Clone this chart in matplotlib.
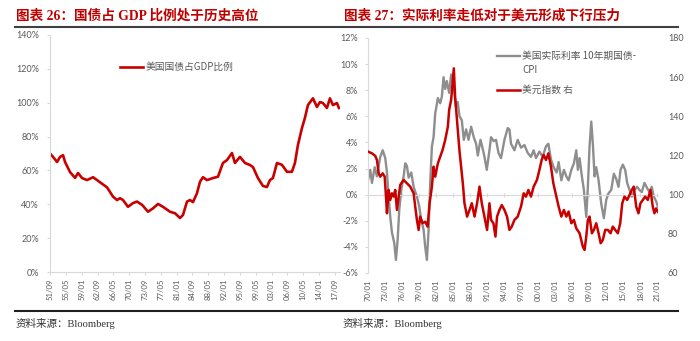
import numpy as np
import matplotlib
matplotlib.use("Agg")
import matplotlib.pyplot as plt
from matplotlib.lines import Line2D

plt.rcParams["font.family"] = ["Lato", "Noto Sans CJK SC", "DejaVu Sans"]

RED = "#C80000"
GREY = "#8E8E8E"
TICK_TXT = "#595959"
AXIS_LN = "#D9D9D9"

# 美国国债占GDP比例 (%), 51/09 起
debt_year = [1951.67, 1952.36, 1953.29, 1953.99, 1954.68, 1955.14, 1956.30, 1957.46,
             1958.15, 1959.08, 1960.24, 1961.63, 1963.25, 1964.87, 1966.26, 1967.19,
             1967.88, 1968.58, 1969.73, 1970.89, 1971.82, 1972.98, 1974.37, 1975.52,
             1976.68, 1977.84, 1979.46, 1980.62, 1981.78, 1982.47, 1983.40, 1984.09,
             1984.79, 1985.71, 1986.41, 1987.10, 1988.03, 1989.42, 1990.58, 1991.73,
             1992.66, 1993.82, 1994.51, 1995.67, 1996.83, 1997.99, 1998.68, 1999.84,
             2001.00, 2001.92, 2002.62, 2003.31, 2004.24, 2005.40, 2006.56, 2007.71,
             2008.41, 2009.10, 2010.03, 2010.72, 2011.42, 2012.58, 2013.51, 2014.20,
             2014.90, 2015.82, 2016.52, 2017.21, 2018.14, 2018.60]
debt_pct = [70.0, 68.0, 65.0, 68.0, 69.0, 65.0, 59.0, 55.6,
            58.5, 55.5, 54.3, 56.0, 53.0, 50.0, 44.5, 42.5,
            43.6, 42.5, 38.5, 40.7, 41.6, 39.7, 35.6, 37.6,
            40.2, 38.5, 35.6, 34.7, 31.9, 33.7, 41.6, 42.5,
            41.3, 46.5, 53.3, 56.0, 54.3, 55.5, 56.3, 64.4,
            66.1, 70.3, 64.4, 68.0, 64.4, 63.2, 62.0, 55.5,
            50.8, 50.2, 54.3, 55.5, 64.4, 63.3, 59.2, 59.2,
            64.4, 75.0, 85.0, 91.0, 98.6, 102.6, 97.5, 100.4,
            99.8, 96.9, 102.6, 98.6, 99.8, 96.9]

# 美国实际利率: 10年期国债-CPI (%)
rate_year = [1970.00, 1970.40, 1970.70, 1971.18, 1971.58, 1972.16, 1972.59, 1973.04,
             1973.34, 1973.64, 1973.92, 1974.22, 1974.63, 1974.92, 1975.22, 1975.50,
             1975.86, 1976.28, 1976.56, 1976.86, 1977.16, 1977.62, 1978.04, 1978.62,
             1979.02, 1979.37, 1979.80, 1980.08, 1980.38, 1980.68, 1980.96, 1981.26,
             1981.55, 1981.84, 1982.31, 1982.72, 1983.01, 1983.31, 1983.60, 1983.89,
             1984.30, 1984.65, 1985.07, 1985.48, 1985.80, 1986.13, 1986.53, 1986.88,
             1987.29, 1987.71, 1988.17, 1988.64, 1989.05, 1989.35, 1989.82, 1990.17,
             1990.52, 1990.93, 1991.40, 1991.68, 1992.16, 1992.56, 1992.99, 1993.44,
             1994.04, 1994.62, 1994.92, 1995.20, 1995.80, 1996.38, 1996.96, 1997.56,
             1998.14, 1998.72, 1999.19, 1999.60, 2000.20, 2000.78, 2001.36, 2001.78,
             2002.24, 2002.71, 2003.24, 2003.59, 2004.07, 2004.52, 2004.95, 2005.35,
             2005.83, 2006.28, 2006.70, 2006.98, 2007.28, 2007.69, 2008.04, 2008.46,
             2008.74, 2009.04, 2009.34, 2009.62, 2009.92, 2010.22, 2010.63, 2011.10,
             2011.56, 2011.98, 2012.38, 2012.86, 2013.32, 2013.74, 2014.14, 2014.50,
             2014.90, 2015.32, 2015.67, 2016.08, 2016.48, 2016.96, 2017.43, 2017.83,
             2018.24, 2018.72, 2019.19, 2019.60, 2020.00, 2020.35, 2020.77, 2021.06]
rate_pct = [1.1, 1.9, 0.9, 2.1, 1.4, 2.9, 3.4, 2.8,
            1.7, -0.15, -1.7, -2.9, -3.7, -5.0, -3.5, -1.2,
            0.36, 1.4, 2.4, 2.2, 1.3, 1.7, 0.6, -0.15,
            -0.9, -1.9, -2.7, -4.0, -5.0, -2.7, 0.9, 3.7,
            4.4, 6.2, 7.4, 7.0, 7.5, 9.0, 8.1, 8.7,
            7.8, 9.2, 8.4, 6.7, 7.1, 6.0, 5.7, 4.2,
            5.0, 4.2, 5.2, 4.4, 3.9, 3.0, 4.2, 3.6,
            2.9, 1.9, 3.4, 4.4, 4.1, 4.2, 3.2, 2.8,
            4.2, 5.1, 5.0, 3.9, 3.4, 4.2, 3.6, 3.8,
            3.2, 2.9, 3.4, 2.8, 3.3, 2.9, 3.7, 3.9,
            2.7, 2.1, 1.7, 2.5, 1.1, 1.9, 1.4, 1.1,
            1.9, 2.4, 3.4, 1.9, 2.8, 1.4, 0.36, -1.7,
            0.6, 3.7, 5.6, 3.9, 1.4, 2.1, 1.1, -0.7,
            -1.8, -0.4, 0.1, 0.36, 1.6, 1.2, 0.6, 1.9,
            2.3, 1.9, 0.9, 0.36, -0.15, 0.36, 0.6, 0.36,
            0.2, 0.9, 0.5, 0.2, 0.6, -0.15, -0.5, -0.9]

# 美元指数 (右轴)
dxy_year = [1970.00, 1970.70, 1971.28, 1971.58, 1971.88, 1972.16, 1972.59, 1972.94,
            1973.17, 1973.34, 1973.64, 1973.92, 1974.22, 1974.52, 1974.80, 1975.10,
            1975.40, 1975.68, 1976.28, 1976.86, 1977.44, 1978.04, 1978.32, 1978.62,
            1978.92, 1979.20, 1979.62, 1980.08, 1980.50, 1980.85, 1981.26, 1981.55,
            1981.84, 1982.31, 1982.72, 1983.14, 1983.60, 1984.07, 1984.30, 1984.65,
            1984.95, 1985.12, 1985.35, 1985.78, 1986.13, 1986.41, 1986.71, 1987.00,
            1987.46, 1987.89, 1988.29, 1988.77, 1989.22, 1989.64, 1990.05, 1990.52,
            1990.98, 1991.40, 1991.68, 1992.10, 1992.46, 1992.74, 1993.16, 1993.57,
            1994.04, 1994.50, 1994.92, 1995.33, 1995.80, 1996.38, 1996.96, 1997.44,
            1997.84, 1998.26, 1998.72, 1999.19, 1999.77, 2000.20, 2000.60, 2000.95,
            2001.36, 2001.78, 2002.24, 2002.66, 2003.12, 2003.59, 2004.07, 2004.52,
            2004.95, 2005.35, 2005.83, 2006.28, 2006.70, 2007.28, 2007.86, 2008.16,
            2008.46, 2008.74, 2009.04, 2009.45, 2009.80, 2010.22, 2010.63, 2011.00,
            2011.38, 2011.80, 2012.26, 2012.74, 2013.14, 2013.56, 2014.02, 2014.44,
            2014.80, 2015.20, 2015.67, 2016.08, 2016.48, 2016.83, 2017.26, 2017.66,
            2018.01, 2018.42, 2018.84, 2019.30, 2019.77, 2020.18, 2020.47, 2020.77,
            2021.06]
dxy_val = [122.0, 121.1, 119.8, 117.7, 110.9, 109.2, 110.9, 109.2,
           99.0, 90.5, 102.4, 97.3, 100.7, 99.0, 102.4, 92.2,
           99.0, 105.0, 107.5, 105.8, 104.1, 100.7, 93.9, 87.1,
           82.0, 88.8, 85.4, 86.2, 83.7, 95.6, 104.1, 114.3,
           109.2, 116.0, 119.4, 122.8, 127.9, 134.7, 143.3, 148.4,
           158.6, 164.5, 150.0, 134.7, 122.0, 114.3, 105.8, 95.6,
           88.8, 92.2, 95.6, 88.8, 95.6, 104.1, 95.6, 88.8,
           82.0, 95.6, 87.1, 85.4, 78.6, 88.8, 92.2, 94.7,
           92.2, 88.8, 82.0, 83.7, 87.1, 88.8, 93.9, 100.7,
           99.0, 102.4, 99.0, 104.1, 107.5, 112.6, 117.7, 120.3,
           117.7, 121.1, 114.3, 105.8, 100.0, 93.9, 88.8, 92.2,
           88.8, 91.4, 85.4, 87.1, 82.8, 80.3, 73.4, 71.8,
           78.6, 87.1, 88.8, 80.3, 82.0, 85.4, 80.3, 75.2,
           76.9, 82.0, 82.0, 80.3, 83.7, 82.0, 80.3, 85.4,
           95.6, 99.0, 97.3, 99.8, 102.4, 104.1, 93.9, 90.5,
           95.6, 97.3, 99.0, 97.3, 102.4, 93.9, 90.5, 93.0,
           91.3]

W, H = 700, 341


def fx(px):
    return px / W


def fy(py):
    return 1 - py / H


fig = plt.figure(figsize=(W / 100, H / 100), dpi=100, facecolor="white")

# --- 左图: 国债占GDP ---
ax1 = fig.add_axes([fx(50), fy(272), fx(290), (272 - 35) / H])
ax1.plot(debt_year, debt_pct, color=RED, lw=1.9, solid_joinstyle="round")
ax1.set_ylim(0, 140)
ax1.set_yticks(np.arange(0, 141, 20))
ax1.set_yticklabels([f"{v}%" for v in range(0, 141, 20)])
start = 1951 * 12 + 8
tick_m = [start + 44 * k for k in range(19)]
ax1.set_xticks([m / 12 for m in tick_m])
ax1.set_xticklabels([f"{(m // 12) % 100:02d}/{m % 12 + 1:02d}" for m in tick_m],
                    rotation=90, fontsize=5.6, color=TICK_TXT)
ax1.set_xlim(start / 12 - 0.01, 2018.85)
for s in ("top", "right"):
    ax1.spines[s].set_visible(False)
for s in ("left", "bottom"):
    ax1.spines[s].set_color(AXIS_LN)
ax1.tick_params(axis="y", length=2.5, pad=5.4, color=AXIS_LN, labelsize=6.5, labelcolor=TICK_TXT)
ax1.tick_params(axis="x", length=2.5, pad=2.5, color=AXIS_LN)

lg1 = dict(transform=ax1.transAxes)
ax1.add_line(Line2D([0.241, 0.321], [0.866, 0.866], color=RED, lw=1.9, **lg1))
ax1.text(0.328, 0.866, "美国国债占GDP比例", fontsize=7, color=TICK_TXT,
         va="center", ha="left", family=["Noto Sans CJK SC"], **lg1)

# --- 右图: 实际利率 vs 美元指数 ---
ax2 = fig.add_axes([fx(368), fy(273), fx(290), (273 - 38) / H])
ax2.plot(rate_year, rate_pct, color=GREY, lw=1.7)
ax2.set_ylim(-6, 12)
ax2.set_yticks(np.arange(-6, 13, 2))
ax2.set_yticklabels([f"{v}%" for v in range(-6, 13, 2)])
ax2.set_xlim(1970, 2021.1)
yr_ticks = list(range(1970, 2022, 3))
ax2.set_xticks(yr_ticks)
ax2.tick_params(axis="x", labelbottom=False, length=2.5, direction="inout", color=AXIS_LN)
ax2.spines["bottom"].set_position(("data", 0))
ax2.spines["bottom"].set_color(AXIS_LN)
ax2.spines["left"].set_color(AXIS_LN)
for s in ("top", "right"):
    ax2.spines[s].set_visible(False)
ax2.tick_params(axis="y", length=2.5, pad=4.7, color=AXIS_LN, labelsize=6.5, labelcolor=TICK_TXT)

sec = ax2.secondary_xaxis("bottom")
sec.set_xticks(yr_ticks)
sec.set_xticklabels([f"{y % 100:02d}/01" for y in yr_ticks], rotation=90,
                    fontsize=5.6, color=TICK_TXT)
sec.tick_params(length=0, pad=5)
for s in sec.spines.values():
    s.set_visible(False)

ax3 = ax2.twinx()
ax3.plot(dxy_year, dxy_val, color=RED, lw=1.8)
ax3.set_ylim(60, 180)
ax3.set_yticks(np.arange(60, 181, 20))
for s in ax3.spines.values():
    s.set_visible(False)
ax3.tick_params(axis="y", length=0, pad=7.2, labelsize=6.5, labelcolor=TICK_TXT)

lg2 = dict(transform=ax3.transAxes)
ax3.add_line(Line2D([0.445, 0.524], [0.923, 0.923], color=GREY, lw=1.7, **lg2))
ax3.text(0.531, 0.923, "美国实际利率 10年期国债-", fontsize=7, color=TICK_TXT,
         va="center", ha="left", family=["Noto Sans CJK SC"], **lg2)
ax3.text(0.531, 0.863, "CPI", fontsize=7, color=TICK_TXT,
         va="center", ha="left", family=["Noto Sans CJK SC"], **lg2)
ax3.add_line(Line2D([0.445, 0.524], [0.779, 0.779], color=RED, lw=1.8, **lg2))
ax3.text(0.531, 0.779, "美元指数 右", fontsize=7, color=TICK_TXT,
         va="center", ha="left", family=["Noto Sans CJK SC"], **lg2)

# --- 标题、分隔线与资料来源 ---
title_font = ["Liberation Serif", "Noto Sans CJK SC"]
fig.text(fx(16), fy(15.5), "图表 26：国债占 GDP 比例处于历史高位", fontsize=9.8,
         fontweight="bold", color="#C00000", va="center", ha="left", family=title_font)
fig.text(fx(344), fy(15.5), "图表 27：实际利率走低对于美元形成下行压力", fontsize=9.8,
         fontweight="bold", color="#C00000", va="center", ha="left", family=title_font)
fig.add_artist(Line2D([fx(15), fx(678)], [fy(27), fy(27)], color="#404040", lw=1.5))
fig.add_artist(Line2D([fx(15), fx(678)], [fy(311), fy(311)], color="#202020", lw=1.5))
fig.text(fx(16), fy(323), "资料来源：Bloomberg", fontsize=7.6, color="#333333",
         va="center", ha="left", family=title_font)
fig.text(fx(343), fy(323), "资料来源：Bloomberg", fontsize=7.6, color="#333333",
         va="center", ha="left", family=title_font)

fig.savefig("out.png", dpi=100, facecolor="white")
